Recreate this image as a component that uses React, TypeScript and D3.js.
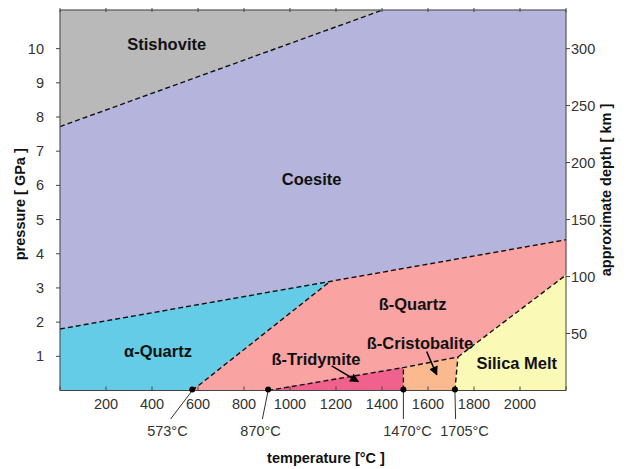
import React from "react";
import * as d3 from "d3";

// phase diagram of SiO2 (T in °C, P in GPa)
const tempTicks = [200, 400, 600, 800, 1000, 1200, 1400, 1600, 1800, 2000];
const topTicks = [0, 200, 400, 600, 800, 1000, 1200, 1400, 1600, 1800, 2000, 2200];
const pressureTicks = [1, 2, 3, 4, 5, 6, 7, 8, 9, 10];
const depthTicks = [50, 100, 150, 200, 250, 300];

const T_MAX = 2200;
const P_MAX = 11.13;
const KM_PER_GPA = 30;

type Pt = [number, number];

const phases = [
  { name: "Stishovite", color: "#b9b9b9", poly: [[0, 7.72], [1403, P_MAX], [0, P_MAX]] as Pt[] },
  { name: "Coesite", color: "#b4b4dc", poly: [[0, 1.8], [1174, 3.19], [2200, 4.41], [2200, P_MAX], [1403, P_MAX], [0, 7.72]] as Pt[] },
  { name: "α-Quartz", color: "#64cce6", poly: [[0, 0], [575, 0], [1174, 3.19], [0, 1.8]] as Pt[] },
  { name: "ß-Quartz", color: "#f9a3a3", poly: [[575, 0], [905, 0], [1493, 0.67], [1730, 0.98], [2200, 3.38], [2200, 4.41], [1174, 3.19]] as Pt[] },
  { name: "ß-Tridymite", color: "#f0618e", poly: [[905, 0], [1493, 0], [1493, 0.67]] as Pt[] },
  { name: "ß-Cristobalite", color: "#fab98e", poly: [[1493, 0], [1717, 0], [1730, 0.98], [1493, 0.67]] as Pt[] },
  { name: "Silica Melt", color: "#fafab6", poly: [[1717, 0], [2200, 0], [2200, 3.38], [1730, 0.98]] as Pt[] },
];

const boundaries: Pt[][] = [
  [[0, 7.72], [1403, P_MAX]],
  [[0, 1.8], [1174, 3.19], [2200, 4.41]],
  [[575, 0], [1174, 3.19]],
  [[905, 0], [1493, 0.67], [1730, 0.98]],
  [[1493, 0], [1493, 0.67]],
  [[1717, 0], [1730, 0.98]],
  [[1730, 0.98], [2200, 3.38]],
];

const labels = [
  { text: "Stishovite", t: 464, p: 10.14 },
  { text: "Coesite", t: 1094, p: 6.19 },
  { text: "α-Quartz", t: 426, p: 1.16 },
  { text: "ß-Quartz", t: 1533, p: 2.54 },
  { text: "ß-Cristobalite", t: 1565, p: 1.39 },
  { text: "ß-Tridymite", t: 1113, p: 0.93 },
  { text: "Silica Melt", t: 1986, p: 0.81 },
];

const arrows = [
  { from: [1181, 0.72] as Pt, to: [1297, 0.26] as Pt },
  { from: [1594, 1.14] as Pt, to: [1638, 0.46] as Pt },
];

// transition points on the T axis: dot, leader end, label text, label centre
const transitions = [
  { t: 575, et: 481, text: "573°C", lt: 467 },
  { t: 905, et: 880, text: "870°C", lt: 872 },
  { t: 1493, et: 1493, text: "1470°C", lt: 1511 },
  { t: 1717, et: 1720, text: "1705°C", lt: 1759 },
];

const margin = { top: 10, left: 60, right: 65, bottom: 78.5 };
const width = 631;
const height = 469;

export default function App() {
  const x = d3.scaleLinear().domain([0, T_MAX]).range([margin.left, width - margin.right]);
  const y = d3.scaleLinear().domain([0, P_MAX]).range([height - margin.bottom, margin.top]);
  const yKm = d3.scaleLinear().domain([0, P_MAX * KM_PER_GPA]).range([height - margin.bottom, margin.top]);
  const line = d3.line<Pt>().x(d => x(d[0])).y(d => y(d[1]));
  const x0 = x(0), x1 = x(T_MAX), y0 = y(0), y1 = y(P_MAX);
  const axisColor = "#444";
  const font = "'Liberation Sans', Arial, sans-serif";

  return (
    <svg width={width} height={height} style={{ position: "absolute", left: 0, top: 0, background: "#fff" }} fontFamily={font}>
      <defs>
        <marker id="head" viewBox="0 0 10 10" refX="9" refY="5" markerWidth="11" markerHeight="9" markerUnits="userSpaceOnUse" orient="auto">
          <path d="M0,0 L10,5 L0,10 z" fill="#000" />
        </marker>
      </defs>

      {phases.map(ph => (
        <path key={ph.name} d={line(ph.poly) + "Z"} fill={ph.color} stroke={ph.color} strokeWidth={0.5} />
      ))}

      {boundaries.map((b, i) => (
        <path key={i} d={line(b) || ""} fill="none" stroke="#111" strokeWidth={1.4} strokeDasharray="5,3" />
      ))}

      {/* frame */}
      <line x1={x0} x2={x1} y1={y1} y2={y1} stroke={axisColor} />
      <line x1={x0} x2={x1} y1={y0} y2={y0} stroke={axisColor} />
      <line x1={x0} x2={x0} y1={y1} y2={y0} stroke={axisColor} />
      <line x1={x1} x2={x1} y1={y1} y2={y0} stroke={axisColor} />

      {topTicks.map(t => (
        <line key={"tt" + t} x1={x(t)} x2={x(t)} y1={y1 - 2} y2={y1 + 2} stroke={axisColor} />
      ))}
      {topTicks.map(t => (
        <line key={"bt" + t} x1={x(t)} x2={x(t)} y1={y0 - 4} y2={y0} stroke={axisColor} />
      ))}
      {tempTicks.map(t => (
        <text key={"bl" + t} x={x(t)} y={y0 + 18} textAnchor="middle" fontSize={14.5} fill="#333">{t}</text>
      ))}

      {pressureTicks.map(p => (
        <g key={"p" + p}>
          <line x1={x0 - 4} x2={x0} y1={y(p)} y2={y(p)} stroke={axisColor} />
          <text x={x0 - 16} y={y(p)} dy="0.35em" textAnchor="end" fontSize={14.5} fill="#333">{p}</text>
        </g>
      ))}
      {depthTicks.map(k => (
        <g key={"k" + k}>
          <line x1={x1} x2={x1 + 4} y1={yKm(k)} y2={yKm(k)} stroke={axisColor} />
          <text x={x1 + 5} y={yKm(k)} dy="0.35em" textAnchor="start" fontSize={14.5} fill="#333">{k}</text>
        </g>
      ))}

      {/* transition markers */}
      {transitions.map(tr => (
        <g key={tr.text}>
          <line x1={x(tr.t)} y1={y0} x2={x(tr.et)} y2={y0 + 28.5} stroke="#333" />
          <circle cx={x(tr.t)} cy={y0 - 1} r={3} fill="#000" />
          <text x={x(tr.lt)} y={y0 + 45} textAnchor="middle" fontSize={14.5} fill="#333">{tr.text}</text>
        </g>
      ))}

      {labels.map(l => (
        <text key={l.text} x={x(l.t)} y={y(l.p)} dy="0.36em" textAnchor="middle" fontSize={16.5} fontWeight="bold" fill="#111">{l.text}</text>
      ))}

      {arrows.map((a, i) => (
        <line key={i} x1={x(a.from[0])} y1={y(a.from[1])} x2={x(a.to[0])} y2={y(a.to[1])} stroke="#000" strokeWidth={1.5} markerEnd="url(#head)" />
      ))}

      {/* axis titles */}
      <text x={326} y={463} textAnchor="middle" fontSize={14.5} fontWeight="bold" fill="#111">temperature [°C ]</text>
      <text transform={`translate(20,${(y0 + y1) / 2 + 4}) rotate(-90)`} dy="0.35em" textAnchor="middle" fontSize={14.5} fontWeight="bold" fill="#111">pressure [ GPa ]</text>
      <text transform={`translate(606,190) rotate(-90)`} dy="0.35em" textAnchor="middle" fontSize={14.5} fontWeight="bold" fill="#111">approximate depth [ km ]</text>
    </svg>
  );
}
